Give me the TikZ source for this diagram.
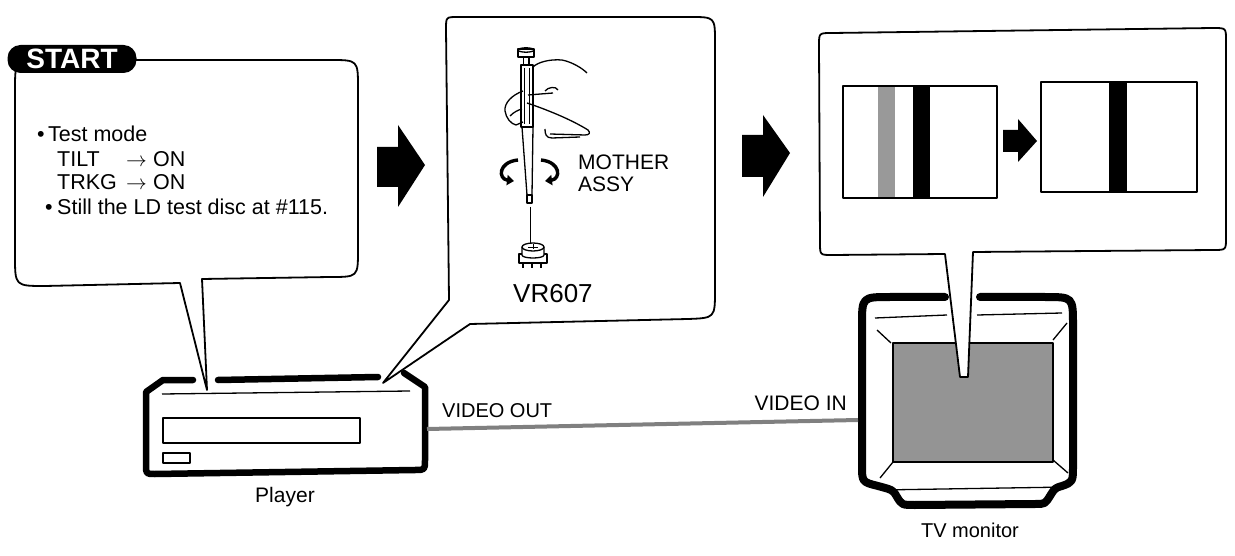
\documentclass[tikz,border=0pt]{standalone}
\usepackage{fontspec}
\setmainfont{Liberation Sans}
\usetikzlibrary{arrows.meta}
\begin{document}
\begin{tikzpicture}[x=1pt,y=-1pt,line join=round,
  bubble/.style={draw=black,line width=1.8pt,fill=white},
  heavy/.style={draw=black,line width=6.5pt,line cap=round},
  fine/.style={draw=black,line width=1.3pt},
  hair/.style={draw=black,line width=0.9pt},
  blockarrow/.style={fill=black},
  txt/.style={inner sep=0pt,anchor=base west,font=\fontsize{21.5}{24}\selectfont},
  lbl/.style={inner sep=0pt,anchor=base,font=\fontsize{21}{24}\selectfont},
  twist/.style={line width=3.4pt,-{Triangle[length=7pt,width=10pt]}},
]
\useasboundingbox[fill=white] (0,0) rectangle (1235,556);

% ---------- player ----------
\draw[heavy] (193,380) -- (163,380) -- (146,392) -- (146,465)
  .. controls (146,474) .. (155,474) -- (415,470)
  .. controls (425,470) .. (425,460) -- (425,387) -- (404,373);
\draw[heavy] (218,380) -- (378,377);
\draw[fine] (162,394) -- (410,391);
\draw[fine] (163,418) rectangle (360,443);
\draw[fine] (163,453) rectangle (190,463);
\coordinate (playerjack) at (427,429);
\node[lbl] (player) at (285,502) {Player};

% ---------- TV monitor ----------
\fill[black!42] (893,343) rectangle (1053,462);
\draw[fine] (893,343) rectangle (1053,462);
\draw[line width=8pt,line cap=round] (945,297) -- (890,297)
  .. controls (862,297) .. (862,325) -- (862,465)
  .. controls (862,482) .. (878,486) .. controls (893,490) .. (897,497)
  .. controls (902,505) .. (915,505) -- (1035,504)
  .. controls (1045,504) .. (1050,496) .. controls (1055,488) .. (1062,486)
  .. controls (1073,482) .. (1073,465) -- (1073,325)
  .. controls (1073,297) .. (1045,297) -- (980,297);
\draw[fine] (875,318) -- (947,315);
\draw[fine] (977,315) -- (1062,313);
\draw[fine] (880,490) -- (1068,487);
\draw[fine] (877,330) -- (891,343);
\draw[fine] (1067,323) -- (1053,340);
\draw[fine] (880,478) -- (893,462);
\draw[fine] (1068,473) -- (1053,460);
\coordinate (tvjack) at (858,420);
\node[lbl,font=\fontsize{20}{24}\selectfont] (tv) at (970,537) {TV monitor};

% ---------- cable ----------
\draw[line width=4pt,black!50] (playerjack) -- (tvjack);
\node[txt,font=\fontsize{20}{22}\selectfont] (vout) at (442,417) {VIDEO OUT};
\node[txt,font=\fontsize{21}{22}\selectfont,anchor=base east] (vin) at (847,410) {VIDEO IN};

% ---------- step 1 bubble ----------
\filldraw[bubble] (202,279) -- (330,277) .. controls (358,277) .. (358,250)
  -- (358,88) .. controls (358,60) .. (330,60) -- (45,60)
  .. controls (15,60) .. (15,90) -- (15,256) .. controls (15,286) .. (45,286)
  -- (180,283) -- (207,390) -- cycle;
\node[fill=black,text=white,rounded corners=13pt,minimum width=129pt,
  minimum height=28pt,inner sep=0pt,font=\bfseries\fontsize{28}{30}\selectfont]
  (start) at (72,59) {START};
\node[txt] (b1) at (37,142) {•};
\node[txt] (t1) at (48,142) {Test mode};
\node[txt] (t2) at (57,167) {TILT};
\node[txt] (a2) at (126,167) {$\rightarrow$};
\node[txt] (o2) at (153,167) {ON};
\node[txt] (t3) at (57,190) {TRKG};
\node[txt] (a3) at (126,190) {$\rightarrow$};
\node[txt] (o3) at (153,190) {ON};
\node[txt] (b2) at (45,215) {•};
\node[txt] (t4) at (57,215) {Still the LD test disc at \#115.};

% ---------- arrow 1 ----------
\fill[blockarrow] (377,147) -- (398,147) -- (398,125) -- (425,165)
  -- (398,207) -- (398,187) -- (377,187) -- cycle;

% ---------- step 2 bubble ----------
\filldraw[bubble] (470,324) -- (688,319) .. controls (715,318) .. (715,290)
  -- (715,42) .. controls (715,17) .. (690,17) -- (458,17)
  .. controls (446,17) .. (446,29) -- (449,300) -- (383,383) -- cycle;

% screwdriver
\draw[fine,fill=white] (518,49) rectangle (534,57);
\draw[fine] (526,50) ellipse (8 and 2.2);
\draw[fine] (523.5,57) -- (523.5,65) (529,57) -- (529,65);
\draw[fine,fill=white] (521,65) rectangle (533,127);
\draw[hair] (524.5,68) -- (524.5,124) (529.5,68) -- (529.5,124);
\draw[fine] (522,127) -- (527,195) (533,127) -- (532,195);
\draw[fine,fill=white] (527,195) rectangle (532,203);
\draw[hair] (530,207) -- (530,244);

% hand holding the screwdriver
\draw[fine] (533,67) .. controls (538,62) and (550,59) .. (562,60)
  .. controls (572,62) and (582,68) .. (587,73);
\draw[fine] (545,91) .. controls (548,87) and (556,86) .. (558,90);
\draw[fine] (528,95) -- (553,93);
\draw[fine] (523,91) .. controls (512,95) and (504,103) .. (505,111)
  .. controls (506,118) and (511,124) .. (516,125) -- (523,122);
\draw[fine] (510,116) .. controls (514,112) and (518,110) .. (522,109);
\draw[fine] (527,103) .. controls (548,110) and (572,120) .. (588,130)
  .. controls (591,133) and (589,135) .. (585,135) -- (550,134);
\draw[fine] (545,129) .. controls (545,134) and (546,138) .. (552,138) -- (580,137);

% rotation arrows
\draw[twist] (518,160) .. controls (498,162) and (498,179) .. (514,181);
\draw[twist] (541,160) .. controls (561,162) and (561,179) .. (545,181);

% VR607 part
\draw[fine] (523,262) -- (523,268) (532,262) -- (532,268) (541,262) -- (541,268);
\draw[fine,fill=white] (519,254) rectangle (547,263);
\draw[fine,fill=white] (522,247) -- (522,255) .. controls (522,259) and (544,259) .. (544,255)
  -- (544,247);
\draw[fine,fill=white] (533,247) ellipse (11 and 4);
\draw[hair] (528,247) -- (538,247) (533,244.5) -- (533,249.5);

\node[txt,font=\fontsize{21}{22}\selectfont] (mother) at (578,170) {MOTHER};
\node[txt,font=\fontsize{21}{22}\selectfont] (assy) at (578,192) {ASSY};
\node[txt,font=\fontsize{26}{28}\selectfont] (vr) at (513,302) {VR607};

% ---------- arrow 2 ----------
\fill[blockarrow] (742,135) -- (763,135) -- (763,115) -- (790,153)
  -- (763,197) -- (763,177) -- (742,177) -- cycle;

% ---------- step 3 bubble ----------
\filldraw[bubble] (973,252) -- (1213,250) .. controls (1226,250) .. (1226,238)
  -- (1226,40) .. controls (1226,28) .. (1213,28) -- (832,33)
  .. controls (819,33) .. (819,45) -- (820,243) .. controls (820,255) .. (832,255)
  -- (945,254) -- (960,377) -- (968,377) -- cycle;

% screen before adjustment
\draw[fine,fill=white] (843,86) rectangle (997,198);
\fill[black!40] (878,87) rectangle (895,197);
\fill[black] (913,87) rectangle (930,197);
% small arrow
\fill[blockarrow] (1003,130) -- (1018,130) -- (1018,119) -- (1037,141)
  -- (1018,162) -- (1018,152) -- (1003,152) -- cycle;
% screen after adjustment
\draw[fine,fill=white] (1041,82) rectangle (1197,192);
\fill[black] (1109,83) rectangle (1127,191);
\end{tikzpicture}
\end{document}
